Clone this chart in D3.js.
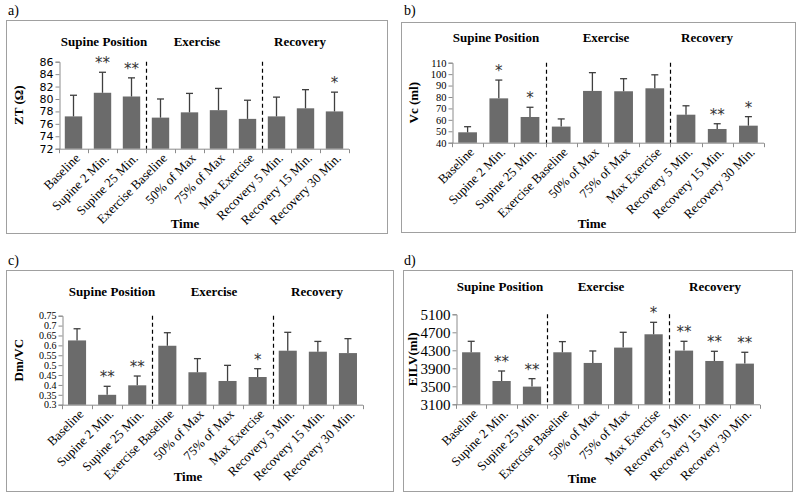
<!DOCTYPE html>
<html>
<head>
<meta charset="utf-8">
<script src="https://cdn.jsdelivr.net/npm/d3@7/dist/d3.min.js"></script>
<style>
  body { margin: 0; background: #fff; }
  svg { display: block; }
</style>
</head>
<body>
<svg id="chart" width="800" height="504"></svg>
<script>
// ---------- data ----------
const categories = ["Baseline", "Supine 2 Min.", "Supine 25 Min.", "Exercise Baseline",
  "50% of Max", "75% of Max", "Max Exercise", "Recovery 5 Min.", "Recovery 15 Min.", "Recovery 30 Min."];
const groupLabels = ["Supine Position", "Exercise", "Recovery"];
const groupBreaks = [3, 7];

const ztMean = [77.2, 81.0, 80.4, 77.0, 77.85, 78.2, 76.8, 77.2, 78.5, 78.0];
const ztSD   = [3.4, 3.3, 3.0, 3.0, 3.05, 3.5, 3.0, 3.1, 3.0, 3.1];
const ztSig  = ["", "**", "**", "", "", "", "", "", "", "*"];
const ztTicks = [72, 74, 76, 78, 80, 82, 84, 86];

const vcMean = [49.1, 78.8, 62.5, 54.1, 85.3, 85.0, 87.6, 64.5, 52.0, 54.9];
const vcSD   = [4.9, 16.0, 8.5, 6.7, 16.0, 11.0, 11.8, 7.8, 4.6, 7.9];
const vcSig  = ["", "*", "*", "", "", "", "", "", "**", "*"];
const vcTicks = [40, 50, 60, 70, 80, 90, 100, 110];

const dmMean = [0.625, 0.35, 0.398, 0.598, 0.464, 0.42, 0.44, 0.573, 0.568, 0.561];
const dmSD   = [0.059, 0.043, 0.047, 0.066, 0.069, 0.079, 0.042, 0.093, 0.052, 0.073];
const dmSig  = ["", "**", "**", "", "", "", "*", "", "", ""];
const dmTicks = [0.3, 0.35, 0.4, 0.45, 0.5, 0.55, 0.6, 0.65, 0.7, 0.75];

const eilvMean = [4256, 3618, 3493, 4256, 4019, 4360, 4656, 4293, 4063, 4004];
const eilvSD   = [244, 222, 177, 237, 266, 340, 266, 207, 215, 252];
const eilvSig  = ["", "**", "**", "", "", "", "*", "**", "**", "**"];
const eilvTicks = [3100, 3500, 3900, 4300, 4700, 5100];

// ---------- layout (not data) ----------
const panels = [
  { tag: "a)", yTitle: "ZT (\u03A9)", mean: ztMean, sd: ztSD, sig: ztSig, ticks: ztTicks,
    box: [6, 20, 387, 233], tagPos: [8, 15], x0: 59, x1: 349, yTop: 61.7, yBot: 148.7,
    groupY: 46, groupX: [104, 197, 300], timePos: [185, 228], yTitleX: 18,
    tickFont: "'DejaVu Sans', Verdana, sans-serif", tickSize: 11 },
  { tag: "b)", yTitle: "Vc (ml)", mean: vcMean, sd: vcSD, sig: vcSig, ticks: vcTicks,
    box: [401, 22, 795, 232], tagPos: [404, 15], x0: 452, x1: 764, yTop: 62.7, yBot: 142.7,
    groupY: 42, groupX: [496, 606, 707], timePos: [592, 228], yTitleX: 413,
    tickFont: "'Liberation Serif', 'Times New Roman', serif", tickSize: 10.5 },
  { tag: "c)", yTitle: "Dm/VC", mean: dmMean, sd: dmSD, sig: dmSig, ticks: dmTicks,
    box: [6, 270, 393, 491], tagPos: [8, 265], x0: 62, x1: 363, yTop: 315.7, yBot: 404.7,
    groupY: 296, groupX: [112, 214, 317], timePos: [188, 481], yTitleX: 18,
    tickFont: "'Liberation Serif', 'Times New Roman', serif", tickSize: 10 },
  { tag: "d)", yTitle: "EILV(ml)", mean: eilvMean, sd: eilvSD, sig: eilvSig, ticks: eilvTicks,
    box: [403, 270, 792, 491], tagPos: [404, 265], x0: 456, x1: 760, yTop: 314.3, yBot: 404.3,
    groupY: 291, groupX: [500, 601, 715], timePos: [582, 483], yTitleX: 412,
    tickFont: "'Liberation Serif', 'Times New Roman', serif", tickSize: 15 }
];

const svg = d3.select("#chart");
const serif = "'Liberation Serif', 'Times New Roman', serif";
const barColor = "#6b6b6b";
const errColor = "#3f3f3f";
const axisColor = "#8c8c8c";

panels.forEach(p => {
  const g = svg.append("g");

  // frame
  g.append("rect")
    .attr("x", p.box[0] + 0.5).attr("y", p.box[1] + 0.5)
    .attr("width", p.box[2] - p.box[0]).attr("height", p.box[3] - p.box[1])
    .attr("fill", "none").attr("stroke", "#a0a0a0").attr("stroke-width", 1);

  // panel tag
  g.append("text").attr("x", p.tagPos[0]).attr("y", p.tagPos[1])
    .attr("font-family", serif).attr("font-size", 14).text(p.tag);

  const x = d3.scaleBand().domain(categories).range([p.x0, p.x1]).paddingInner(0.4).paddingOuter(0.2);
  const xb = d3.scaleLinear().domain([0, categories.length]).range([p.x0, p.x1]);
  const y = d3.scaleLinear().domain([p.ticks[0], p.ticks[p.ticks.length - 1]]).range([p.yBot, p.yTop]);

  // y axis
  const yAxis = d3.axisLeft(y).tickValues(p.ticks).tickSize(4).tickPadding(2)
    .tickFormat(d => String(+d.toFixed(3)));
  const ya = g.append("g").attr("transform", `translate(${p.x0 + 0.5},0)`).call(yAxis);
  ya.select(".domain").attr("stroke", axisColor);
  ya.selectAll(".tick line").attr("stroke", axisColor);
  ya.selectAll(".tick text").attr("fill", "#000").attr("font-family", p.tickFont).attr("font-size", p.tickSize);

  // x axis (boundary ticks)
  const boundaries = d3.range(0, categories.length + 1);
  const xa = g.append("g").attr("transform", `translate(0,${p.yBot + 0.5})`);
  xa.append("line").attr("x1", p.x0).attr("x2", p.x1).attr("stroke", axisColor);
  xa.selectAll("line.bt").data(boundaries).join("line").attr("class", "bt")
    .attr("x1", d => Math.round(xb(d)) + 0.5).attr("x2", d => Math.round(xb(d)) + 0.5)
    .attr("y1", 0).attr("y2", 4).attr("stroke", axisColor);

  // category labels
  g.selectAll("text.cat").data(categories).join("text").attr("class", "cat")
    .attr("transform", d => `translate(${x(d) + x.bandwidth() / 2 + 4},${p.yBot + 7}) rotate(-45)`)
    .attr("text-anchor", "end").attr("dy", "0.35em")
    .attr("font-family", serif).attr("font-size", 13).text(d => d);

  // bars
  g.selectAll("rect.bar").data(p.mean).join("rect").attr("class", "bar")
    .attr("x", (d, i) => x(categories[i])).attr("width", x.bandwidth())
    .attr("y", d => y(d)).attr("height", d => p.yBot - y(d))
    .attr("fill", barColor);

  // error bars (upper)
  const cx = i => x(categories[i]) + x.bandwidth() / 2;
  g.selectAll("line.err").data(p.mean).join("line").attr("class", "err")
    .attr("x1", (d, i) => cx(i)).attr("x2", (d, i) => cx(i))
    .attr("y1", d => y(d)).attr("y2", (d, i) => y(d + p.sd[i]))
    .attr("stroke", errColor).attr("stroke-width", 1.3);
  g.selectAll("line.cap").data(p.mean).join("line").attr("class", "cap")
    .attr("x1", (d, i) => cx(i) - 3.5).attr("x2", (d, i) => cx(i) + 3.5)
    .attr("y1", (d, i) => y(d + p.sd[i])).attr("y2", (d, i) => y(d + p.sd[i]))
    .attr("stroke", errColor).attr("stroke-width", 1.3);

  // significance marks
  g.selectAll("text.sig").data(p.sig).join("text").attr("class", "sig")
    .attr("x", (d, i) => cx(i)).attr("y", (d, i) => y(p.mean[i] + p.sd[i]) - 4)
    .attr("text-anchor", "middle").attr("font-family", "'DejaVu Sans', sans-serif")
    .attr("font-size", 15).attr("fill", "#333").text(d => d);

  // dashed group separators
  groupBreaks.forEach(b => {
    g.append("line")
      .attr("x1", Math.round(xb(b)) + 0.5).attr("x2", Math.round(xb(b)) + 0.5)
      .attr("y1", p.yTop).attr("y2", p.yBot)
      .attr("stroke", "#000").attr("stroke-width", 1.2).attr("stroke-dasharray", "4,3");
  });

  // group labels
  groupLabels.forEach((t, i) => {
    g.append("text").attr("x", p.groupX[i]).attr("y", p.groupY)
      .attr("text-anchor", "middle").attr("font-family", serif)
      .attr("font-weight", "bold").attr("font-size", 13).text(t);
  });

  // x title
  g.append("text").attr("x", p.timePos[0]).attr("y", p.timePos[1])
    .attr("text-anchor", "middle").attr("font-family", serif)
    .attr("font-weight", "bold").attr("font-size", 13).text("Time");

  // y title
  g.append("text")
    .attr("transform", `translate(${p.yTitleX},${(p.yTop + p.yBot) / 2}) rotate(-90)`)
    .attr("text-anchor", "middle").attr("dy", "0.35em").attr("font-family", serif)
    .attr("font-weight", "bold").attr("font-size", 13).text(p.yTitle);
});
</script>
</body>
</html>
